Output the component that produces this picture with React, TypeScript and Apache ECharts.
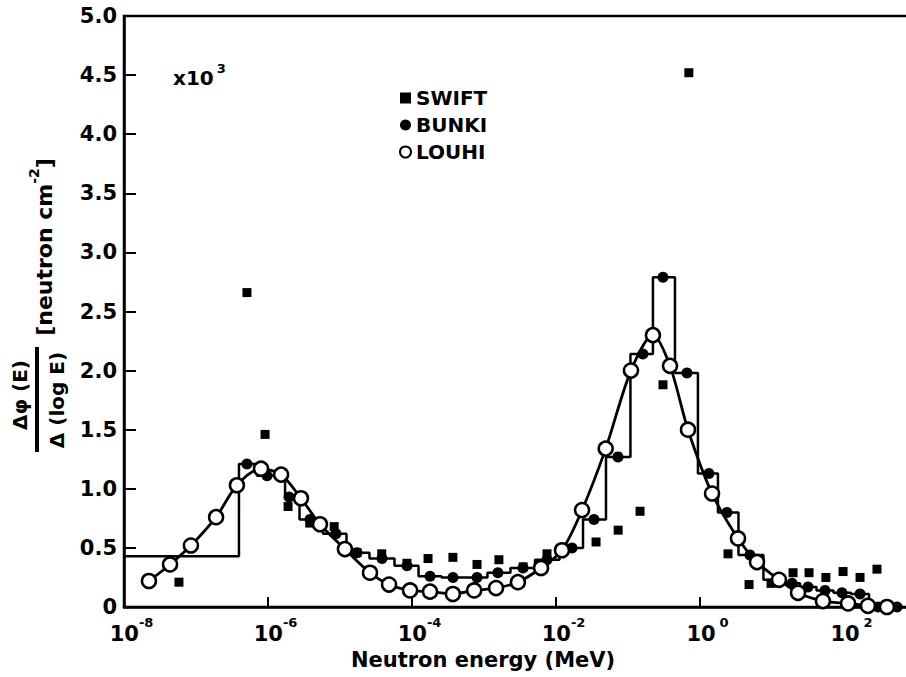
import React, { useEffect, useRef } from 'react';
import * as echarts from 'echarts';

const FONT = '"DejaVu Sans", "Liberation Sans", sans-serif';

// x-axis decade labels (powers of ten, MeV)
const xTickExponents = [-8, -6, -4, -2, 0, 2];

// SWIFT (filled squares)
const swiftEnergy = [5.8e-8, 5.1e-7, 9.1e-7, 1.9e-6, 3.8e-6, 8.3e-6, 1.72e-5, 3.8e-5, 8.5e-5, 1.67e-4, 3.7e-4, 8.0e-4, 1.61e-3, 3.5e-3, 7.5e-3, 3.6e-2, 7.3e-2, 0.147, 0.306, 0.70, 2.45, 4.8, 9.7, 19.6, 32.7, 56, 97, 167, 287];
const swiftFlux = [0.21, 2.66, 1.46, 0.85, 0.71, 0.68, 0.46, 0.45, 0.37, 0.41, 0.42, 0.36, 0.40, 0.34, 0.45, 0.55, 0.65, 0.81, 1.88, 4.52, 0.45, 0.19, 0.20, 0.29, 0.29, 0.25, 0.30, 0.25, 0.32];

// BUNKI (filled circles, histogram steps); the first bin has no marker
const bunkiEnergy = [1e-8, 3.06e-7, 5.1e-7, 9.7e-7, 1.52e-6, 1.96e-6, 3.83e-6, 8.8e-6, 1.72e-5, 3.83e-5, 8.53e-5, 1.78e-4, 3.71e-4, 8.0e-4, 1.56e-3, 3.48e-3, 7.5e-3, 1.67e-2, 3.37e-2, 7.26e-2, 0.161, 0.306, 0.659, 1.33, 2.37, 4.94, 11.7, 19.0, 31.6, 54.5, 93.8, 167, 297, 545];
const bunkiFlux = [0.43, 0.43, 1.21, 1.11, 1.13, 0.93, 0.74, 0.62, 0.46, 0.41, 0.35, 0.26, 0.25, 0.25, 0.29, 0.33, 0.40, 0.50, 0.74, 1.27, 2.14, 2.79, 1.98, 1.13, 0.80, 0.44, 0.23, 0.20, 0.17, 0.14, 0.12, 0.11, 0.00, 0.00];
const BUNKI_UNMARKED = 2;

// LOUHI (open circles, curve)
const louhiEnergy = [2.22e-8, 4.36e-8, 8.5e-8, 1.9e-7, 3.7e-7, 8.0e-7, 1.52e-6, 2.87e-6, 5.27e-6, 1.17e-5, 2.61e-5, 4.8e-5, 9.4e-5, 1.78e-4, 3.7e-4, 7.3e-4, 1.47e-3, 2.96e-3, 6.2e-3, 1.21e-2, 2.3e-2, 4.9e-2, 0.110, 0.222, 0.383, 0.681, 1.47, 3.37, 6.19, 12.5, 23.0, 51, 114, 215, 395];
const louhiFlux = [0.22, 0.36, 0.52, 0.76, 1.03, 1.17, 1.12, 0.92, 0.70, 0.49, 0.29, 0.19, 0.14, 0.13, 0.11, 0.14, 0.16, 0.21, 0.33, 0.48, 0.82, 1.34, 2.00, 2.30, 2.04, 1.50, 0.96, 0.58, 0.38, 0.23, 0.12, 0.05, 0.03, 0.01, 0.00];

export default function App() {
  const ref = useRef<HTMLDivElement>(null);

  useEffect(() => {
    if (!ref.current) return;
    const chart = echarts.init(ref.current, null, { renderer: 'svg' });
    const bold = (size: number) => ({ fontSize: size, fontWeight: 'bold', fontFamily: FONT, color: '#000' });

    const option: any = {
      animation: false,
      backgroundColor: '#fff',
      grid: { left: 124, top: 16, width: 792, height: 591, show: true, borderColor: '#000', borderWidth: 2.5 },
      xAxis: {
        type: 'log',
        logBase: 100,
        min: 1e-8,
        max: 1e3,
        axisLine: { show: true, lineStyle: { color: '#000', width: 2.5 } },
        axisTick: { show: true, inside: true, length: 10, lineStyle: { color: '#000', width: 2 } },
        minorTick: { show: false },
        splitLine: { show: false },
        axisLabel: {
          margin: 9,
          showMinLabel: true,
          showMaxLabel: false,
          formatter: (v: number) => {
            const e = Math.round(Math.log10(v));
            if (!xTickExponents.includes(e)) return '';
            return e < 0 ? `{b|10}{s|-${-e}}` : `{b|10}{t|${e}}`;
          },
          rich: {
            b: { ...bold(21), padding: [0, 0, 0, 15], lineHeight: 28, verticalAlign: 'bottom' },
            s: { ...bold(13), lineHeight: 16, verticalAlign: 'top' },
            t: { ...bold(13), lineHeight: 16, verticalAlign: 'top', padding: [0, 0, 0, 4] },
          },
        },
      },
      yAxis: {
        type: 'value',
        min: 0,
        max: 5,
        interval: 0.5,
        axisLine: { show: true, lineStyle: { color: '#000', width: 2.5 } },
        axisTick: { show: true, inside: true, length: 12, lineStyle: { color: '#000', width: 2 } },
        splitLine: { show: false },
        axisLabel: {
          margin: 7,
          ...bold(21),
          formatter: (v: number) => (v === 0 ? '0' : v.toFixed(1)),
        },
      },
      legend: {
        orient: 'vertical',
        left: 394,
        top: 83,
        itemWidth: 11,
        itemHeight: 11,
        itemGap: 7,
        selectedMode: false,
        textStyle: { ...bold(20), lineHeight: 20 },
        data: [
          { name: 'SWIFT', icon: 'rect' },
          { name: 'BUNKI', icon: 'circle' },
          { name: 'LOUHI', icon: 'circle' },
        ],
      },
      graphic: [
        {
          type: 'text',
          left: 173,
          top: 62,
          style: {
            text: '{b|x10}{s|3}',
            rich: {
              b: { ...bold(20), fill: '#000', lineHeight: 26, verticalAlign: 'bottom' },
              s: { ...bold(13), fill: '#000', lineHeight: 16, verticalAlign: 'top', padding: [0, 0, 0, 3] },
            },
          },
        },
        {
          type: 'text',
          x: 483,
          y: 660,
          style: { text: 'Neutron energy (MeV)', font: `bold 21px ${FONT}`, fill: '#000', align: 'center', verticalAlign: 'middle' },
        },
        {
          type: 'text',
          x: 20,
          y: 395,
          rotation: Math.PI / 2,
          style: { text: 'Δφ (E)', font: `bold 20px ${FONT}`, fill: '#000', align: 'center', verticalAlign: 'middle' },
        },
        {
          type: 'rect',
          shape: { x: 35, y: 347, width: 4, height: 105 },
          style: { fill: '#000' },
        },
        {
          type: 'text',
          x: 57,
          y: 400,
          rotation: Math.PI / 2,
          style: { text: 'Δ (log E)', font: `bold 20px ${FONT}`, fill: '#000', align: 'center', verticalAlign: 'middle' },
        },
        {
          type: 'text',
          x: 41,
          y: 247,
          rotation: Math.PI / 2,
          style: {
            text: '{a|[neutron cm}{s|-2}{a|]}',
            align: 'center',
            verticalAlign: 'middle',
            rich: {
              a: { ...bold(22), fill: '#000', lineHeight: 28, verticalAlign: 'bottom' },
              s: { ...bold(14), fill: '#000', lineHeight: 16, verticalAlign: 'top' },
            },
          },
        },
      ],
      series: [
        {
          name: 'BUNKI',
          type: 'line',
          step: 'middle',
          z: 2,
          symbol: 'circle',
          symbolSize: 11,
          itemStyle: { color: '#000' },
          lineStyle: { color: '#000', width: 2.5 },
          data: bunkiEnergy.map((e, i) =>
            i < BUNKI_UNMARKED ? { value: [e, bunkiFlux[i]], symbol: 'none' } : [e, bunkiFlux[i]]
          ),
        },
        {
          name: 'SWIFT',
          type: 'scatter',
          z: 3,
          symbol: 'rect',
          symbolSize: 9,
          itemStyle: { color: '#000', opacity: 1 },
          data: swiftEnergy.map((e, i) => [e, swiftFlux[i]]),
        },
        {
          name: 'LOUHI',
          type: 'line',
          z: 4,
          smooth: 0.3,
          symbol: 'circle',
          symbolSize: 14,
          itemStyle: { color: '#fff', borderColor: '#000', borderWidth: 2.5 },
          lineStyle: { color: '#000', width: 2.8 },
          data: louhiEnergy.map((e, i) => [e, louhiFlux[i]]),
        },
      ],
    };

    chart.setOption(option);
    return () => chart.dispose();
  }, []);

  return (
    <div style={{ position: 'fixed', left: 0, top: 0, width: 906, height: 677, overflow: 'hidden', background: '#fff' }}>
      <div ref={ref} style={{ width: 940, height: 677 }} />
    </div>
  );
}
